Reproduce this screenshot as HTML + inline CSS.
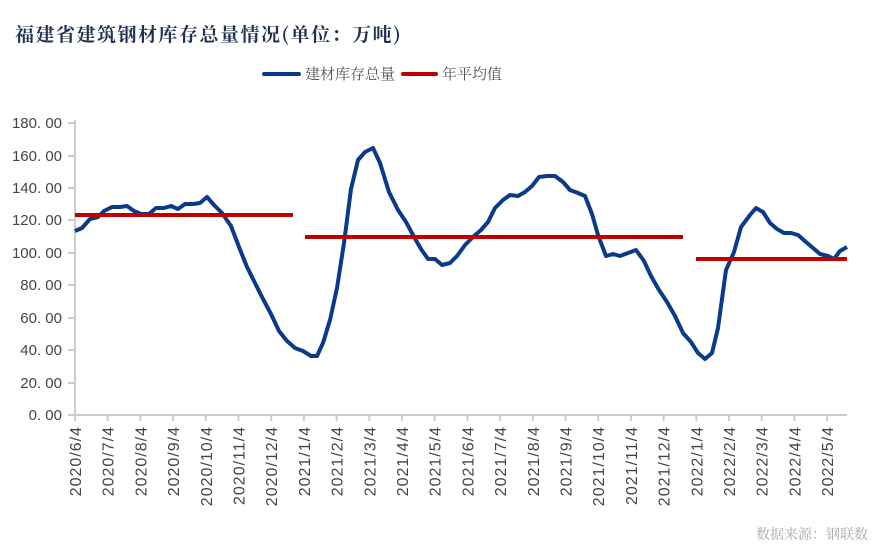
<!DOCTYPE html>
<html><head><meta charset="utf-8"><style>
body{margin:0;background:#fff;}
svg{display:block;}
</style></head><body>
<svg width="883" height="555" xmlns="http://www.w3.org/2000/svg">
<text x="15" y="41" font-family="'Noto Serif CJK SC',serif" font-weight="bold" font-size="19" letter-spacing="1.5" fill="#1f3050">福建省建筑钢材库存总量情况(单位：万吨)</text>
<line x1="264" y1="74" x2="299" y2="74" stroke="#0a3a8a" stroke-width="4" stroke-linecap="round"/>
<text x="305" y="79" font-family="'Noto Serif CJK SC',serif" font-size="15" fill="#555">建材库存总量</text>
<line x1="403" y1="74" x2="436" y2="74" stroke="#c00000" stroke-width="4" stroke-linecap="round"/>
<text x="442" y="79" font-family="'Noto Serif CJK SC',serif" font-size="15" fill="#555">年平均值</text>
<g font-family="'Liberation Sans',sans-serif" font-size="15" fill="#444" text-anchor="end">
<text x="62" y="420">0. 00</text><text x="62" y="388">20. 00</text><text x="62" y="355">40. 00</text><text x="62" y="323">60. 00</text><text x="62" y="290">80. 00</text><text x="62" y="258">100. 00</text><text x="62" y="225">120. 00</text><text x="62" y="193">140. 00</text><text x="62" y="161">160. 00</text><text x="62" y="128">180. 00</text>
</g>
<g stroke="#ccc" stroke-width="2">
<line x1="75" y1="120" x2="75" y2="415"/><line x1="75" y1="415" x2="847" y2="415"/>
<line x1="68" y1="415" x2="75" y2="415"/><line x1="68" y1="383" x2="75" y2="383"/><line x1="68" y1="350" x2="75" y2="350"/><line x1="68" y1="318" x2="75" y2="318"/><line x1="68" y1="285" x2="75" y2="285"/><line x1="68" y1="253" x2="75" y2="253"/><line x1="68" y1="220" x2="75" y2="220"/><line x1="68" y1="188" x2="75" y2="188"/><line x1="68" y1="156" x2="75" y2="156"/><line x1="68" y1="123" x2="75" y2="123"/>
<line x1="75" y1="415" x2="75" y2="421"/><line x1="107.7" y1="415" x2="107.7" y2="421"/><line x1="140.4" y1="415" x2="140.4" y2="421"/><line x1="173.1" y1="415" x2="173.1" y2="421"/><line x1="205.8" y1="415" x2="205.8" y2="421"/><line x1="238.5" y1="415" x2="238.5" y2="421"/><line x1="271.2" y1="415" x2="271.2" y2="421"/><line x1="303.9" y1="415" x2="303.9" y2="421"/><line x1="336.6" y1="415" x2="336.6" y2="421"/><line x1="369.3" y1="415" x2="369.3" y2="421"/><line x1="402" y1="415" x2="402" y2="421"/><line x1="434.7" y1="415" x2="434.7" y2="421"/><line x1="467.4" y1="415" x2="467.4" y2="421"/><line x1="500.1" y1="415" x2="500.1" y2="421"/><line x1="532.8" y1="415" x2="532.8" y2="421"/><line x1="565.5" y1="415" x2="565.5" y2="421"/><line x1="598.2" y1="415" x2="598.2" y2="421"/><line x1="630.9" y1="415" x2="630.9" y2="421"/><line x1="663.6" y1="415" x2="663.6" y2="421"/><line x1="696.3" y1="415" x2="696.3" y2="421"/><line x1="729" y1="415" x2="729" y2="421"/><line x1="761.7" y1="415" x2="761.7" y2="421"/><line x1="794.4" y1="415" x2="794.4" y2="421"/><line x1="827.1" y1="415" x2="827.1" y2="421"/>
</g>
<g font-family="'Liberation Sans',sans-serif" font-size="16" letter-spacing="1" fill="#444" text-anchor="end">
<text transform="translate(81,426) rotate(-90)">2020/6/4</text>
<text transform="translate(113.7,426) rotate(-90)">2020/7/4</text>
<text transform="translate(146.4,426) rotate(-90)">2020/8/4</text>
<text transform="translate(179.1,426) rotate(-90)">2020/9/4</text>
<text transform="translate(211.8,426) rotate(-90)">2020/10/4</text>
<text transform="translate(244.5,426) rotate(-90)">2020/11/4</text>
<text transform="translate(277.2,426) rotate(-90)">2020/12/4</text>
<text transform="translate(309.9,426) rotate(-90)">2021/1/4</text>
<text transform="translate(342.6,426) rotate(-90)">2021/2/4</text>
<text transform="translate(375.3,426) rotate(-90)">2021/3/4</text>
<text transform="translate(408,426) rotate(-90)">2021/4/4</text>
<text transform="translate(440.7,426) rotate(-90)">2021/5/4</text>
<text transform="translate(473.4,426) rotate(-90)">2021/6/4</text>
<text transform="translate(506.1,426) rotate(-90)">2021/7/4</text>
<text transform="translate(538.8,426) rotate(-90)">2021/8/4</text>
<text transform="translate(571.5,426) rotate(-90)">2021/9/4</text>
<text transform="translate(604.2,426) rotate(-90)">2021/10/4</text>
<text transform="translate(636.9,426) rotate(-90)">2021/11/4</text>
<text transform="translate(669.6,426) rotate(-90)">2021/12/4</text>
<text transform="translate(702.3,426) rotate(-90)">2022/1/4</text>
<text transform="translate(735,426) rotate(-90)">2022/2/4</text>
<text transform="translate(767.7,426) rotate(-90)">2022/3/4</text>
<text transform="translate(800.4,426) rotate(-90)">2022/4/4</text>
<text transform="translate(833.1,426) rotate(-90)">2022/5/4</text>
</g>
<polyline fill="none" stroke="#0a3a8a" stroke-width="4" stroke-linejoin="round" points="75,231 82,228 90,219 98,217 104,211 112,207 120,207 127,206 134,211 141,214 149,214 156,208 164,208 171,206 178,209 185,204 193,204 200,203 207,197 214,205 222,213 231,226 239,247 247,267 255,283 263,299 271,314 279,331 287,341 295,348 303,351 311,356 317,356 323,343 330,320 337,288 344,243 351,189 358,160 365,152 373,148 380,163 389,192 398,210 406,222 413,235 421,249 428,259 435,259 442,265 450,263 457,256 465,245 474,236 481,230 488,222 495,208 503,200 510,195 518,196 525,192 532,186 539,177 547,176 555,176 563,182 570,190 578,193 585,196 592,214 598,235 606,256 613,254 620,256 628,253 636,250 644,261 651,276 659,290 667,302 675,316 683,333 691,342 698,353 705,359 712,353 718,328 726,270 734,252 741,227 750,215 756,208 763,212 770,223 777,229 784,233 791,233 798,235 806,242 813,248 820,254 828,256 834,259 840,251 847,247"/>
<g stroke="#c00000" stroke-width="4">
<line x1="75" y1="215" x2="293" y2="215"/><line x1="305" y1="237" x2="683" y2="237"/><line x1="696" y1="259" x2="847" y2="259"/>
</g>
<text x="868" y="539" text-anchor="end" font-family="'Noto Serif CJK SC',serif" font-size="14" fill="#aaa">数据来源：钢联数</text>
</svg>
</body></html>
